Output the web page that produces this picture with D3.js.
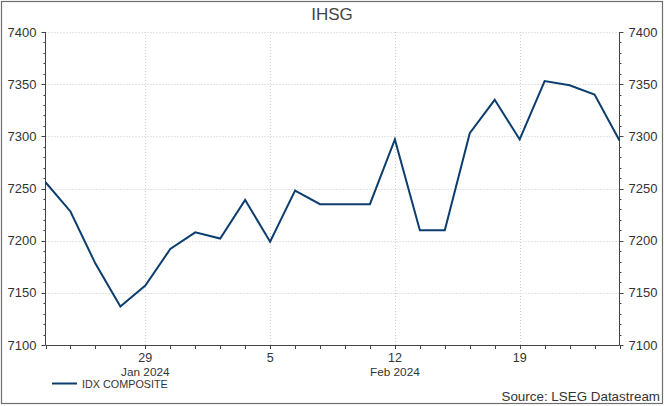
<!DOCTYPE html>
<html><head><meta charset="utf-8">
<script src="https://cdn.jsdelivr.net/npm/d3@7"></script>
<style>body{margin:0;background:#fff}svg{display:block}text{font-family:"Liberation Sans",Arial,sans-serif}</style>
</head><body><svg id="c" width="664" height="406"></svg>
<script>
const dates = ["2024-01-23","2024-01-24","2024-01-25","2024-01-26","2024-01-29","2024-01-30","2024-01-31","2024-02-01","2024-02-02","2024-02-05","2024-02-06","2024-02-07","2024-02-08","2024-02-09","2024-02-12","2024-02-13","2024-02-14","2024-02-15","2024-02-16","2024-02-19","2024-02-20","2024-02-21","2024-02-22","2024-02-23"];
const values = [7256,7228,7178,7137,7157,7192,7208,7202,7239,7199,7248,7235,7235,7235,7297,7210,7210,7303,7335,7297,7353,7349,7340,7296];
const yTicks = [7100,7150,7200,7250,7300,7350,7400];
const majorDates = ["2024-01-29","2024-02-05","2024-02-12","2024-02-19"];
const majorLabels = ["29","5","12","19"];
const monthLabels = [{date:"2024-01-29",label:"Jan 2024"},{date:"2024-02-12",label:"Feb 2024"}];
const title = "IHSG";
const seriesName = "IDX COMPOSITE";
const source = "Source: LSEG Datastream";

const svg = d3.select("#c");
const L=45.5, R=619.5, T=32, B=345;
const x = d3.scalePoint().domain(dates).range([L,R]);
const y = d3.scaleLinear().domain([7100,7400]).range([B,T]);
const txt="#333", axc="#444";

svg.append("rect").attr("x",1.5).attr("y",1.5).attr("width",661).attr("height",402)
  .attr("fill","#fff").attr("stroke","#6e6e6e").attr("stroke-width",1.2);

svg.append("text").attr("x",332).attr("y",20).attr("text-anchor","middle")
  .attr("font-size",17).attr("fill","#444").text(title);

// gridlines
const g = svg.append("g");
g.selectAll(".hg").data(yTicks.filter(v=>v>7100)).join("line")
  .attr("x1",L).attr("x2",R).attr("y1",d=>Math.round(y(d))+0.5).attr("y2",d=>Math.round(y(d))+0.5)
  .attr("stroke","#c8c8c8").attr("stroke-dasharray","1,2");
g.selectAll(".vg").data(majorDates).join("line")
  .attr("x1",d=>Math.round(x(d))+0.5).attr("x2",d=>Math.round(x(d))+0.5).attr("y1",T).attr("y2",B)
  .attr("stroke","#d0d0d0").attr("stroke-dasharray","1,2");

// Y axes
const minorY = d3.range(7100,7401,10);
function yAxis(xpos, dir){
  const a = svg.append("g");
  a.append("line").attr("x1",xpos).attr("x2",xpos).attr("y1",T).attr("y2",B).attr("stroke",axc);
  a.selectAll(".mt").data(minorY).join("line")
    .attr("x1",xpos).attr("x2",d=>xpos+dir*(d%50===0?4:2))
    .attr("y1",d=>Math.round(y(d))+0.5).attr("y2",d=>Math.round(y(d))+0.5).attr("stroke",axc);
  a.selectAll("text").data(yTicks).join("text")
    .attr("x",xpos+dir*9).attr("y",d=>y(d)+4.5)
    .attr("text-anchor",dir<0?"end":"start").attr("font-size",13).attr("fill",txt).text(d=>d);
}
yAxis(L,-1); yAxis(R,1);

// X axis
const xa = svg.append("g");
xa.append("line").attr("x1",L).attr("x2",R).attr("y1",B+0.5).attr("y2",B+0.5).attr("stroke",axc);
xa.selectAll(".xt").data(dates).join("line")
  .attr("x1",d=>Math.round(x(d))+0.5).attr("x2",d=>Math.round(x(d))+0.5)
  .attr("y1",B).attr("y2",B+4).attr("stroke",axc);
xa.selectAll(".xl").data(majorDates).join("text")
  .attr("x",d=>x(d)).attr("y",B+16.5).attr("text-anchor","middle")
  .attr("font-size",12.5).attr("fill",txt).text((d,i)=>majorLabels[i]);
xa.selectAll(".ml").data(monthLabels).join("text")
  .attr("x",d=>x(d.date)).attr("y",B+30.5).attr("text-anchor","middle")
  .attr("font-size",11.8).attr("fill",txt).text(d=>d.label);

// line
svg.append("path").datum(values)
  .attr("d",d3.line().x((d,i)=>x(dates[i])).y(d=>y(d)))
  .attr("fill","none").attr("stroke","#0b3d6e").attr("stroke-width",2).attr("stroke-linejoin","miter");

// legend
svg.append("line").attr("x1",52).attr("x2",77).attr("y1",383.5).attr("y2",383.5)
  .attr("stroke","#0b3d6e").attr("stroke-width",2);
svg.append("text").attr("x",82).attr("y",388).attr("font-size",10.8).attr("fill",txt).text(seriesName);

svg.append("text").attr("x",660).attr("y",401).attr("text-anchor","end")
  .attr("font-size",13.4).attr("fill",txt).text(source);
</script></body></html>
